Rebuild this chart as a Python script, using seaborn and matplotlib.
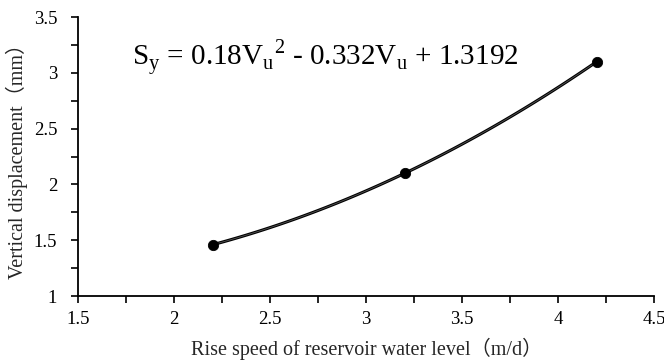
import numpy as np
import pandas as pd
import matplotlib
matplotlib.use("Agg")
import matplotlib.pyplot as plt
import seaborn as sns
from matplotlib.ticker import MultipleLocator

# Data
rise_speed = [2.2, 3.2, 4.2]
vertical_disp = [1.46, 2.10, 3.10]
x_ticks = [1.5, 2, 2.5, 3, 3.5, 4, 4.5]
x_tick_labels = ["1.5", "2", "2.5", "3", "3.5", "4", "4.5"]
y_ticks = [1, 1.5, 2, 2.5, 3, 3.5]
y_tick_labels = ["1", "1.5", "2", "2.5", "3", "3.5"]
equation = r"S$_\mathregular{y}$ = 0.18V$_\mathregular{u}$$^\mathregular{2}$ - 0.332V$_\mathregular{u}$ + 1.3192"

df = pd.DataFrame({"speed": rise_speed, "disp": vertical_disp})

sns.set_theme(style="white")
plt.rcParams["font.family"] = ["Liberation Serif", "Noto Sans CJK SC"]
plt.rcParams["mathtext.fontset"] = "custom"
plt.rcParams["mathtext.rm"] = "Liberation Serif"

fig = plt.figure(figsize=(6.64, 3.62), dpi=100)
ax = fig.add_axes([0.1175, 0.182, 0.868, 0.771])

# smoothed black line
sns.regplot(data=df, x="speed", y="disp", order=2, ci=None, scatter=False,
            truncate=True, color="black", line_kws={"linewidth": 2.2, "zorder": 2}, ax=ax)
# gray polynomial trendline
sns.regplot(data=df, x="speed", y="disp", order=2, ci=None, scatter=False,
            truncate=True, color="#555555", line_kws={"linewidth": 0.6, "zorder": 3}, ax=ax)
sns.scatterplot(data=df, x="speed", y="disp", color="black", s=55, edgecolor="black",
                zorder=4, ax=ax, legend=False)

ax.set_xlim(1.5, 4.5)
ax.set_ylim(1, 3.5)
ax.set_xticks(x_ticks)
ax.set_xticklabels(x_tick_labels, fontsize=13.5)
ax.set_yticks(y_ticks)
ax.set_yticklabels(y_tick_labels, fontsize=13.5)
ax.xaxis.set_minor_locator(MultipleLocator(0.25))
ax.yaxis.set_minor_locator(MultipleLocator(0.25))
ax.tick_params(axis="both", which="both", direction="out", length=5, width=1.2,
               color="black", labelcolor="black", bottom=True, left=True)
ax.tick_params(axis="x", which="major", pad=6)
ax.tick_params(axis="y", which="major", pad=10)

for side in ["top", "right"]:
    ax.spines[side].set_visible(False)
for side in ["left", "bottom"]:
    ax.spines[side].set_color("black")
    ax.spines[side].set_linewidth(1.3)

ax.set_xlabel("Rise speed of reservoir water level（m/d）", fontsize=14.5, labelpad=7)
ax.set_ylabel("Vertical displacement（mm）", fontsize=14.5, labelpad=4)

ax.text(0.094, 0.855, equation, transform=ax.transAxes, fontsize=21,
        ha="left", va="center", color="black")

fig.savefig("out.png", dpi=100)
